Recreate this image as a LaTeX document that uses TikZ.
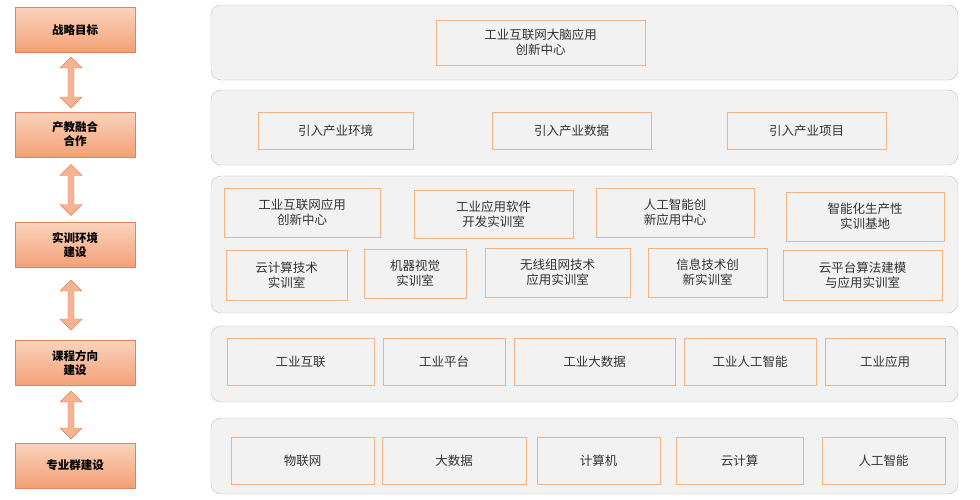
\documentclass[tikz,border=0pt]{standalone}
\usepackage{fontspec}
\setmainfont{Noto Sans CJK SC}
\usetikzlibrary{shapes.arrows}
\definecolor{panelgray}{HTML}{F2F2F2}
\definecolor{panelline}{HTML}{BFBFBF}
\definecolor{boxline}{HTML}{F4B183}
\definecolor{stepline}{HTML}{E0825A}
\definecolor{steptop}{HTML}{FAD3BC}
\definecolor{stepbot}{HTML}{F3A077}
\definecolor{txt}{HTML}{333333}
\begin{document}
\begin{tikzpicture}[
    x=1pt, y=-1pt,
    panel/.style={draw=panelline, fill=panelgray, rounded corners=10pt,
                  minimum width=747pt, thin},
    inbox/.style={draw=boxline, fill=panelgray, align=center, text=txt,
                  font=\fontsize{12.5}{15}\selectfont, inner sep=1pt},
    stepbox/.style={draw=stepline, top color=steptop, bottom color=stepbot,
                    minimum width=120pt, minimum height=45pt, align=center,
                    font=\fontsize{11.5}{14}\selectfont\bfseries, text=black},
    darrow/.style={double arrow, draw=stepline, fill=stepbot!80,
                   rotate=90, minimum width=22pt, minimum height=51pt,
                   double arrow head extend=6pt, inner sep=2pt}]

    \useasboundingbox (0,0) rectangle (980,499);

    % left column
    \node[stepbox] (goal) at (75,30) {战略目标};
    \node[stepbox] (coop) at (75,134.5) {产教融合\\合作};
    \node[stepbox] (train) at (75,245) {实训环境\\建设};
    \node[stepbox] (course) at (75,363) {课程方向\\建设};
    \node[stepbox] (major) at (75,465.5) {专业群建设};

    \node[darrow] (a1) at (71,82.5) {};
    \node[darrow] (a2) at (71,190) {};
    \node[darrow, minimum height=50pt] (a3) at (71,305) {};
    \node[darrow, minimum height=48pt] (a4) at (71,415) {};

    % panels
    \node[panel, minimum height=75pt] (p1) at (584.5,42.5) {};
    \node[panel, minimum height=75pt] (p2) at (584.5,127.5) {};
    \node[panel, minimum height=137pt] (p3) at (584.5,244.5) {};
    \node[panel, minimum height=76pt] (p4) at (584.5,364) {};
    \node[panel, minimum height=76pt] (p5) at (584.5,456) {};

    % strategy
    \node[inbox, minimum width=209pt, minimum height=45pt] (brain) at (540.5,42.5) {工业互联网大脑应用\\创新中心};

    % industry
    \node[inbox, minimum width=155pt, minimum height=37pt] (env) at (335.5,130.5) {引入产业环境};
    \node[inbox, minimum width=159pt, minimum height=37pt] (data) at (571.5,130.5) {引入产业数据};
    \node[inbox, minimum width=159pt, minimum height=37pt] (proj) at (806.5,130.5) {引入产业项目};

    % labs
    \node[inbox, minimum width=156pt, minimum height=49pt] (l1) at (302,212.5) {工业互联网应用\\创新中心};
    \node[inbox, minimum width=159pt, minimum height=48pt] (l2) at (493.5,214) {工业应用软件\\开发实训室};
    \node[inbox, minimum width=158pt, minimum height=49pt] (l3) at (675,212.5) {人工智能创\\新应用中心};
    \node[inbox, minimum width=158pt, minimum height=49pt] (l4) at (865,216.5) {智能化生产性\\实训基地};
    \node[inbox, minimum width=121pt, minimum height=50pt] (l5) at (286.5,275) {云计算技术\\实训室};
    \node[inbox, minimum width=102pt, minimum height=49pt] (l6) at (415,273.5) {机器视觉\\实训室};
    \node[inbox, minimum width=145pt, minimum height=49pt] (l7) at (557.5,272.5) {无线组网技术\\应用实训室};
    \node[inbox, minimum width=119pt, minimum height=49pt] (l8) at (707.5,272.5) {信息技术创\\新实训室};
    \node[inbox, minimum width=159pt, minimum height=50pt] (l9) at (862.5,275) {云平台算法建模\\与应用实训室};

    % courses
    \node[inbox, minimum width=147pt, minimum height=47pt] (c1) at (300.5,361.5) {工业互联};
    \node[inbox, minimum width=122pt, minimum height=47pt] (c2) at (444,361.5) {工业平台};
    \node[inbox, minimum width=161pt, minimum height=47pt] (c3) at (594.5,361.5) {工业大数据};
    \node[inbox, minimum width=132pt, minimum height=47pt] (c4) at (750,361.5) {工业人工智能};
    \node[inbox, minimum width=120pt, minimum height=47pt] (c5) at (885,361.5) {工业应用};

    % majors
    \node[inbox, minimum width=143pt, minimum height=47pt] (m1) at (302.5,460.5) {物联网};
    \node[inbox, minimum width=144pt, minimum height=47pt] (m2) at (454,460.5) {大数据};
    \node[inbox, minimum width=123pt, minimum height=47pt] (m3) at (598.5,460.5) {计算机};
    \node[inbox, minimum width=127pt, minimum height=47pt] (m4) at (739.5,460.5) {云计算};
    \node[inbox, minimum width=123pt, minimum height=47pt] (m5) at (883.5,460.5) {人工智能};

\end{tikzpicture}
\end{document}
